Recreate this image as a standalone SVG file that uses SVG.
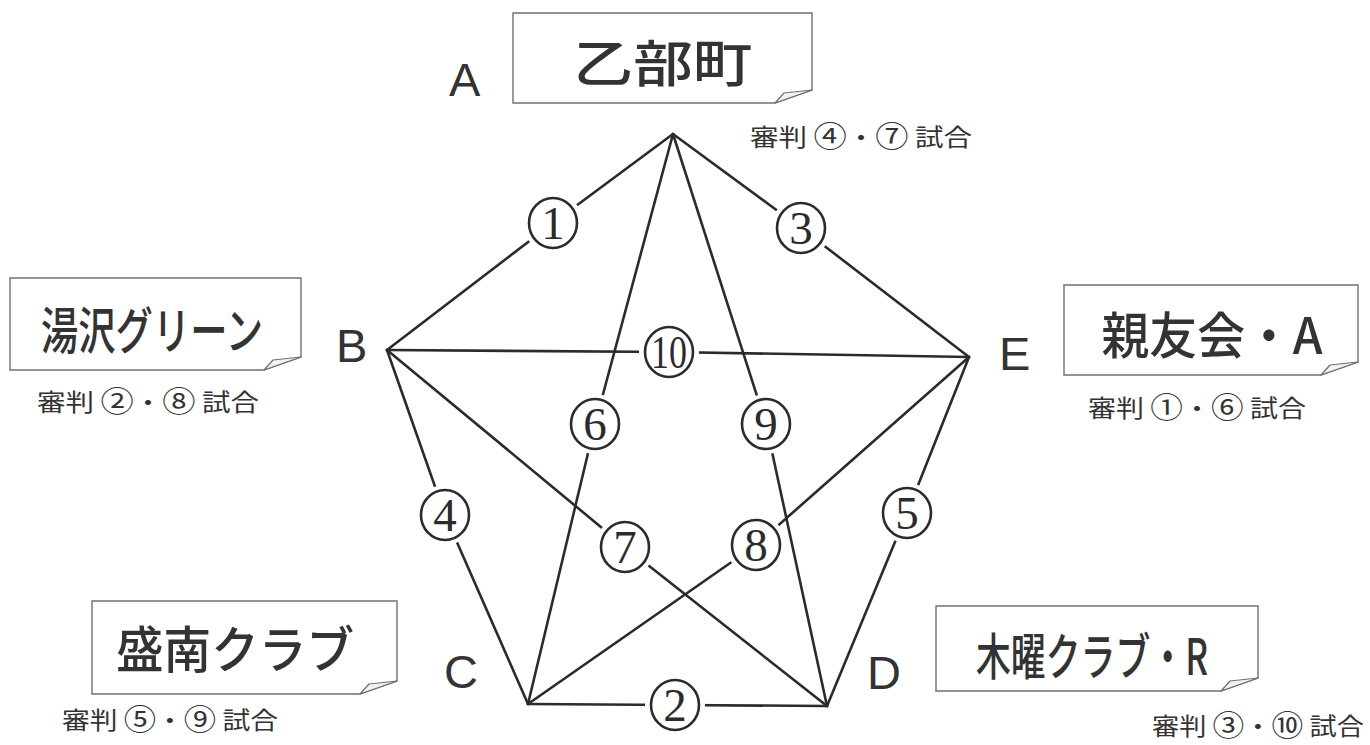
<svg xmlns="http://www.w3.org/2000/svg" width="1370" height="745" viewBox="0 0 1370 745">
<style>
.bg{fill:#ffffff}
.edge{fill:none;stroke:#2b2b2b;stroke-width:2.6;stroke-linejoin:round;stroke-linecap:round}
.note{fill:#ffffff;stroke:#707070;stroke-width:1.4}
.fold{fill:#f2f2f2;stroke:#707070;stroke-width:1.2;stroke-linejoin:round}
.title{font-family:"Noto Sans CJK JP","Noto Sans",sans-serif;font-size:50px;font-weight:500;fill:#333333;text-anchor:middle;dominant-baseline:central}
.sub{font-family:"Noto Sans CJK JP","Noto Sans",sans-serif;font-size:24px;fill:#333333;dominant-baseline:central}
.cd{font-size:28px}
.vtx{font-family:"Liberation Sans",Arial,sans-serif;font-size:47px;fill:#333333}
.halo{fill:#ffffff;stroke:none}
.ring{fill:#ffffff;stroke:#2b2b2b;stroke-width:2.6}
.num{font-family:"Liberation Serif","Times New Roman",serif;font-size:47px;fill:#2b2b2b;text-anchor:middle}
</style>
<rect class="bg" x="0" y="0" width="1370" height="745"/>

<g id="connectors">
  <polyline class="edge" points="673,134 553,223 387,350"/>
  <polyline class="edge" points="673,134 801,228 969,357"/>
  <polyline class="edge" points="387,350 669,352 969,357"/>
  <polyline class="edge" points="673,134 595,424 528,704"/>
  <polyline class="edge" points="673,134 766,424 827,706"/>
  <polyline class="edge" points="387,350 445,515 528,704"/>
  <polyline class="edge" points="387,350 625,547 827,706"/>
  <polyline class="edge" points="969,357 756,545 528,704"/>
  <polyline class="edge" points="969,357 907,513 827,706"/>
  <polyline class="edge" points="528,704 675,705 827,706"/>
</g>

<g id="match-labels">
  <g id="m1"><circle class="halo" cx="553" cy="223" r="30"/><ellipse class="ring" cx="553" cy="223" rx="24" ry="25"/><text class="num" x="553" y="239">1</text></g>
  <g id="m2"><circle class="halo" cx="675" cy="705" r="30"/><ellipse class="ring" cx="675" cy="705" rx="24" ry="25"/><text class="num" x="675" y="721">2</text></g>
  <g id="m3"><circle class="halo" cx="801" cy="228" r="30"/><ellipse class="ring" cx="801" cy="228" rx="24" ry="25"/><text class="num" x="801" y="244">3</text></g>
  <g id="m4"><circle class="halo" cx="445" cy="515" r="30"/><ellipse class="ring" cx="445" cy="515" rx="24" ry="25"/><text class="num" x="445" y="531">4</text></g>
  <g id="m5"><circle class="halo" cx="907" cy="513" r="30"/><ellipse class="ring" cx="907" cy="513" rx="24" ry="25"/><text class="num" x="907" y="529">5</text></g>
  <g id="m6"><circle class="halo" cx="595" cy="424" r="30"/><ellipse class="ring" cx="595" cy="424" rx="24" ry="25"/><text class="num" x="595" y="440">6</text></g>
  <g id="m7"><circle class="halo" cx="625" cy="547" r="30"/><ellipse class="ring" cx="625" cy="547" rx="24" ry="25"/><text class="num" x="625" y="563">7</text></g>
  <g id="m8"><circle class="halo" cx="756" cy="545" r="30"/><ellipse class="ring" cx="756" cy="545" rx="24" ry="25"/><text class="num" x="756" y="561">8</text></g>
  <g id="m9"><circle class="halo" cx="766" cy="424" r="30"/><ellipse class="ring" cx="766" cy="424" rx="24" ry="25"/><text class="num" x="766" y="440">9</text></g>
  <g id="m10"><circle class="halo" cx="669" cy="352" r="30"/><ellipse class="ring" cx="669" cy="352" rx="24" ry="25"/><text class="num" x="669" y="368" textLength="36" lengthAdjust="spacingAndGlyphs">10</text></g>
</g>

<g id="node-A">
  <text class="vtx" x="449" y="96">A</text>
  <path class="note" d="M513,13 H812 V90 L775,103 H513 Z"/>
  <path class="fold" d="M775,103 L784,93 L812,90 Z"/>
  <text class="title" x="663" y="60" textLength="179" lengthAdjust="spacingAndGlyphs">乙部町</text>
  <text class="sub" x="750" y="135" textLength="222" lengthAdjust="spacingAndGlyphs">審判 <tspan class="cd">④</tspan>・<tspan class="cd">⑦</tspan> 試合</text>
</g>

<g id="node-B">
  <text class="vtx" x="336" y="362">B</text>
  <path class="note" d="M10,278 H301 V357 L264,370 H10 Z"/>
  <path class="fold" d="M264,370 L273,360 L301,357 Z"/>
  <text class="title" x="152" y="327" textLength="222" lengthAdjust="spacingAndGlyphs">湯沢グリーン</text>
  <text class="sub" x="37" y="400" textLength="222" lengthAdjust="spacingAndGlyphs">審判 <tspan class="cd">②</tspan>・<tspan class="cd">⑧</tspan> 試合</text>
</g>

<g id="node-E">
  <text class="vtx" x="999" y="370">E</text>
  <path class="note" d="M1064,285 H1358 V362 L1321,375 H1064 Z"/>
  <path class="fold" d="M1321,375 L1330,365 L1358,362 Z"/>
  <text class="title" x="1212" y="332" textLength="221" lengthAdjust="spacingAndGlyphs">親友会・A</text>
  <text class="sub" x="1088" y="406" textLength="218" lengthAdjust="spacingAndGlyphs">審判 <tspan class="cd">①</tspan>・<tspan class="cd">⑥</tspan> 試合</text>
</g>

<g id="node-C">
  <text class="vtx" x="444" y="688">C</text>
  <path class="note" d="M92,601 H397 V681 L360,694 H92 Z"/>
  <path class="fold" d="M360,694 L369,684 L397,681 Z"/>
  <text class="title" x="235" y="646" textLength="238" lengthAdjust="spacingAndGlyphs">盛南クラブ</text>
  <text class="sub" x="62" y="718" textLength="216" lengthAdjust="spacingAndGlyphs">審判 <tspan class="cd">⑤</tspan>・<tspan class="cd">⑨</tspan> 試合</text>
</g>

<g id="node-D">
  <text class="vtx" x="867" y="689">D</text>
  <path class="note" d="M936,606 H1258 V678 L1221,691 H936 Z"/>
  <path class="fold" d="M1221,691 L1230,681 L1258,678 Z"/>
  <text class="title" x="1092" y="653" textLength="232" lengthAdjust="spacingAndGlyphs">木曜クラブ・R</text>
  <text class="sub" x="1152" y="724" textLength="212" lengthAdjust="spacingAndGlyphs">審判 <tspan class="cd">③</tspan>・<tspan class="cd">⑩</tspan> 試合</text>
</g>
</svg>
